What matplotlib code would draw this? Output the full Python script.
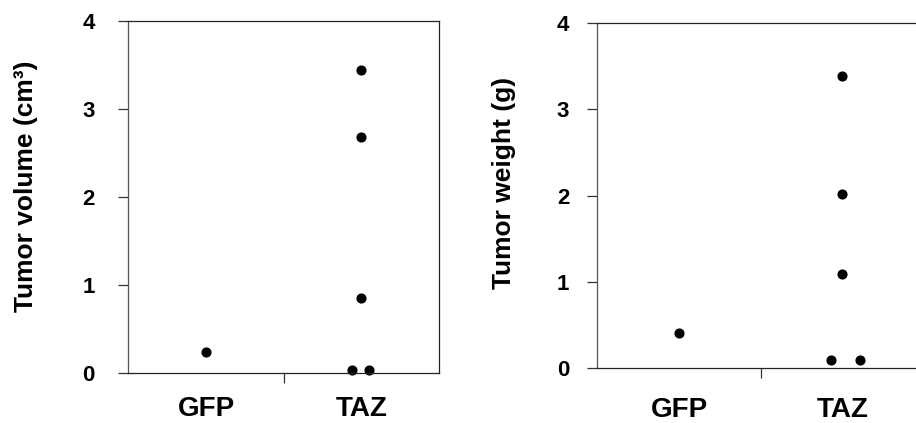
import numpy as np
import matplotlib
matplotlib.use('Agg')
from matplotlib import pyplot as plt

plt.rcParams['font.family'] = 'Liberation Sans'
plt.rcParams['font.weight'] = 'bold'

groups = ['GFP', 'TAZ']
group_x = [1, 3]
sep_x = 2

# tumor volume (cm3)
vol_x = [1, 3, 3, 3, 2.875, 3.10]
vol_y = [0.24, 3.44, 2.685, 0.846, 0.027, 0.027]

# tumor weight (g)
wt_x = [1, 3, 3, 3, 2.865, 3.21]
wt_y = [0.40, 3.39, 2.02, 1.085, 0.086, 0.086]

fig = plt.figure(figsize=(9.16, 4.23), dpi=100)
ax1 = fig.add_axes([0.1401, 0.1189, 0.3392, 0.8315])
ax2 = fig.add_axes([0.6521, 0.1307, 0.3567, 0.8142])

panels = [
	(ax1, vol_x, vol_y, 'Tumor volume (cm³)', 17, 17, (-0.29, 0.531)),
	(ax2, wt_x, wt_y, 'Tumor weight (g)', 13, 21, (-0.25, 0.536)),
]

for ax, xs, ys, lab, ypad, xpad, lpos in panels:
	ax.plot(xs, ys, 'o', color='black', markersize=6.3, clip_on=False)
	ax.set_xlim(0, 4)
	ax.set_ylim(0, 4)
	ax.set_yticks([0, 1, 2, 3, 4])
	ax.tick_params(axis='y', direction='out', length=7.2, width=0.9,
		color='#333333', labelsize=16, pad=ypad)
	ax.set_xticks([sep_x])
	ax.set_xticklabels([''])
	ax.set_xticks(group_x, minor=True)
	ax.set_xticklabels(groups, minor=True)
	ax.tick_params(axis='x', which='major', direction='out', length=7.2,
		width=0.9, color='#333333')
	ax.tick_params(axis='x', which='minor', length=0, labelsize=20, pad=xpad)
	for s in ax.spines.values():
		s.set_linewidth(0.9)
		s.set_color('#222222')
	ax.spines['left'].set_color('#555555')
	ax.set_ylabel(lab, fontsize=19, fontweight='bold')
	ax.yaxis.set_label_coords(*lpos)

ax2.spines['right'].set_visible(False)

plt.savefig('out.png', dpi=100)
